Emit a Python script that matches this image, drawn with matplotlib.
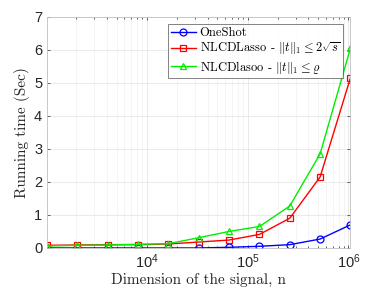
import matplotlib
matplotlib.use("Agg")
import matplotlib.pyplot as plt
from matplotlib.ticker import LogLocator, NullFormatter

plt.rcParams["mathtext.fontset"] = "cm"
plt.rcParams["font.family"] = ["Liberation Sans", "DejaVu Sans"]

# signal dimensions 2^10 .. 2^20
n_values = [2 ** k for k in range(10, 21)]
oneshot = [0.0, 0.0, 0.0, 0.0, 0.0, 0.0, 0.02, 0.05, 0.1, 0.27, 0.7]
nlcd_sqrt = [0.08, 0.09, 0.1, 0.1, 0.12, 0.18, 0.24, 0.41, 0.9, 2.15, 5.15]
nlcd_rho = [0.06, 0.08, 0.09, 0.11, 0.13, 0.31, 0.5, 0.65, 1.27, 2.85, 6.05]

labels = [
    "OneShot",
    r"NLCDLasso - $\|t\|_1 \leq 2\sqrt{s}$",
    r"NLCDlasoo - $\|t\|_1 \leq \varrho$",
]

fig = plt.figure(figsize=(3.83, 2.89), dpi=100)
ax = fig.add_axes([0.123, 0.142, 0.792, 0.8])

ax.plot(n_values, oneshot, "-o", color="#0000ff", lw=1.0, ms=5,
        mfc="none", mew=0.9, label=labels[0])
ax.plot(n_values, nlcd_sqrt, "-s", color="#ff0000", lw=1.0, ms=4.3,
        mfc="none", mew=0.9, label=labels[1])
ax.plot(n_values, nlcd_rho, "-^", color="#00ee00", lw=1.0, ms=5,
        mfc="none", mew=0.9, label=labels[2])

ax.set_xscale("log")
ax.set_xlim(2 ** 10, 2 ** 20)
ax.set_ylim(0, 7)
ax.set_yticks(range(0, 8))
ax.xaxis.set_major_locator(LogLocator(base=10, numticks=10))
ax.xaxis.set_minor_locator(LogLocator(base=10, subs=range(2, 10), numticks=20))
ax.xaxis.set_minor_formatter(NullFormatter())

ax.grid(True, which="major", color="#e6e6e6", lw=0.6)
ax.grid(True, which="minor", axis="x", color="#f0f0f0", lw=0.5)
ax.set_axisbelow(True)

for sp in ax.spines.values():
    sp.set_color("#bfbfbf")
    sp.set_linewidth(0.6)
ax.tick_params(which="both", direction="in", colors="#262626",
               labelsize=10.5, length=2.5, width=0.5, top=True, right=True)
ax.tick_params(which="minor", length=1.5)

ax.set_xlabel("Dimension of the signal, n", fontfamily="cmr10",
              fontsize=11, color="#262626", labelpad=1)
ax.set_ylabel("Running time (Sec)", fontfamily="cmr10",
              fontsize=11, color="#262626", labelpad=3)

leg = ax.legend(loc="upper right", frameon=True, fancybox=False,
                borderpad=0.2, labelspacing=0.12, handlelength=2.0,
                handletextpad=0.3, borderaxespad=0.6,
                prop={"family": "cmr10", "size": 9})
leg.get_frame().set_edgecolor("#262626")
leg.get_frame().set_linewidth(0.5)

fig.savefig("out.png", dpi=100)
